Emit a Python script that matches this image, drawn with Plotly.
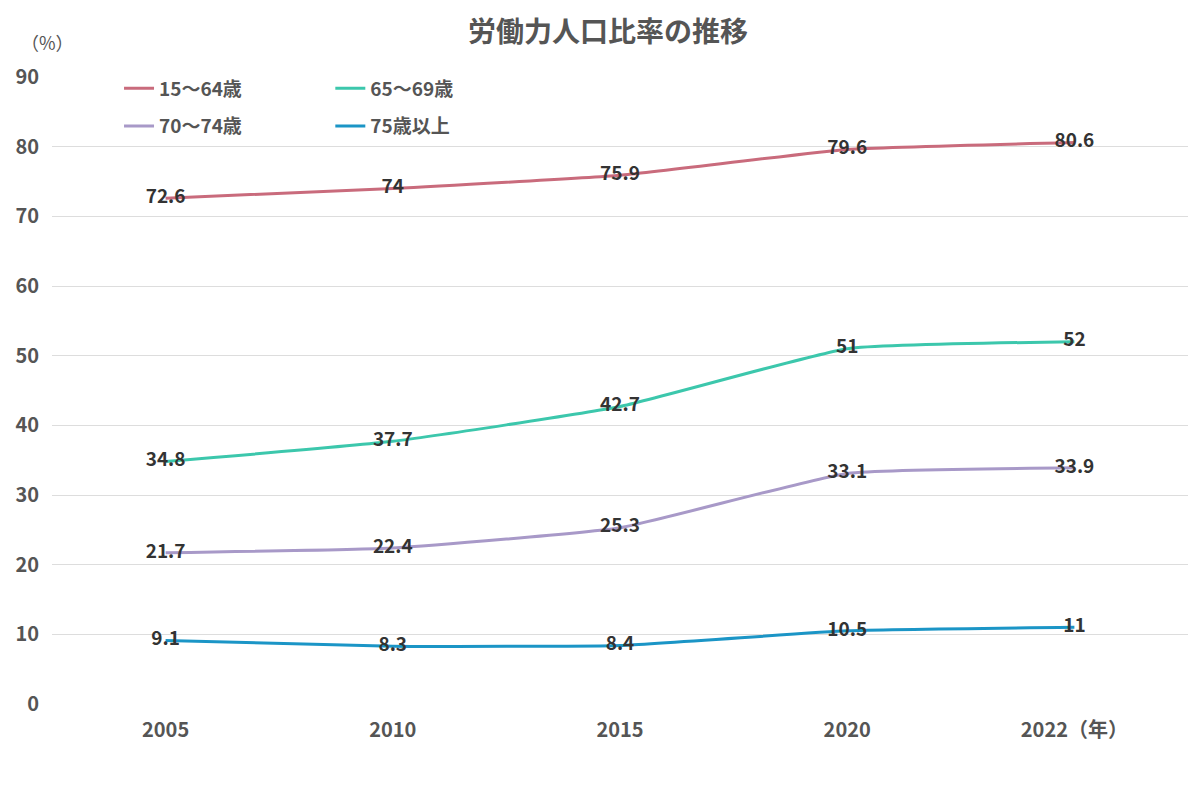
import plotly.graph_objects as go

years = ["2005", "2010", "2015", "2020", "2022"]
tick_labels = ["2005", "2010", "2015", "2020", "2022（年）"]
series_names = ["15〜64歳", "65〜69歳", "70〜74歳", "75歳以上"]
v_15_64 = [72.6, 74, 75.9, 79.6, 80.6]
v_65_69 = [34.8, 37.7, 42.7, 51, 52]
v_70_74 = [21.7, 22.4, 25.3, 33.1, 33.9]
v_75_up = [9.1, 8.3, 8.4, 10.5, 11]
colors = ["#C96B7C", "#3CC7AC", "#A899C8", "#1B95C6"]
legend_ids = ["legend", "legend2", "legend", "legend2"]

FONT = "Noto Sans CJK JP"
fig = go.Figure()
for i, (name, vals, col) in enumerate(zip(series_names, [v_15_64, v_65_69, v_70_74, v_75_up], colors)):
    fig.add_trace(go.Scatter(
        x=years, y=vals, name=name, mode="lines+text",
        line=dict(color=col, width=3, shape="spline", smoothing=0.4),
        text=[str(v) for v in vals], textposition="middle center",
        textfont=dict(family=FONT, size=19, color="#333333", weight="bold"),
        cliponaxis=False, legend=legend_ids[i], legendgroup=name,
    ))

leg_common = dict(orientation="v", yanchor="top", xanchor="left", bgcolor="rgba(0,0,0,0)",
                  font=dict(family=FONT, size=19, color="#555555", weight="bold"),
                  tracegroupgap=10, itemwidth=30)
fig.update_layout(
    width=1200, height=800,
    paper_bgcolor="white", plot_bgcolor="white",
    margin=dict(l=44, r=20, t=69, b=104),
    title=dict(text="労働力人口比率の推移", x=0.5, xanchor="center", y=0.97, yanchor="middle",
               font=dict(family=FONT, size=28, color="#555555", weight="bold")),
    font=dict(family=FONT, color="#555555"),
    legend=dict(x=0.059, y=1.012, **leg_common),
    legend2=dict(x=0.245, y=1.012, **leg_common),
    showlegend=True,
)
fig.update_xaxes(type="category", tickvals=years, ticktext=tick_labels, range=[-0.5, 4.5],
                 showgrid=False, showline=False, zeroline=False, ticks="", automargin=False,
                 tickfont=dict(family=FONT, size=20, color="#555555", weight="bold"), ticklabelstandoff=12)
fig.update_yaxes(range=[0, 90], dtick=10, showgrid=True, gridcolor="#DDDDDD", gridwidth=1,
                 zeroline=False, showline=False, ticks="", automargin=False,
                 tickfont=dict(family=FONT, size=20, color="#555555", weight="bold"), ticklabelstandoff=12)
fig.add_annotation(text="（%）", xref="paper", yref="paper", x=-0.004, y=1.056, xanchor="center", yanchor="middle",
                   showarrow=False, font=dict(family=FONT, size=18, color="#555555"))
fig.write_html("out.html")
